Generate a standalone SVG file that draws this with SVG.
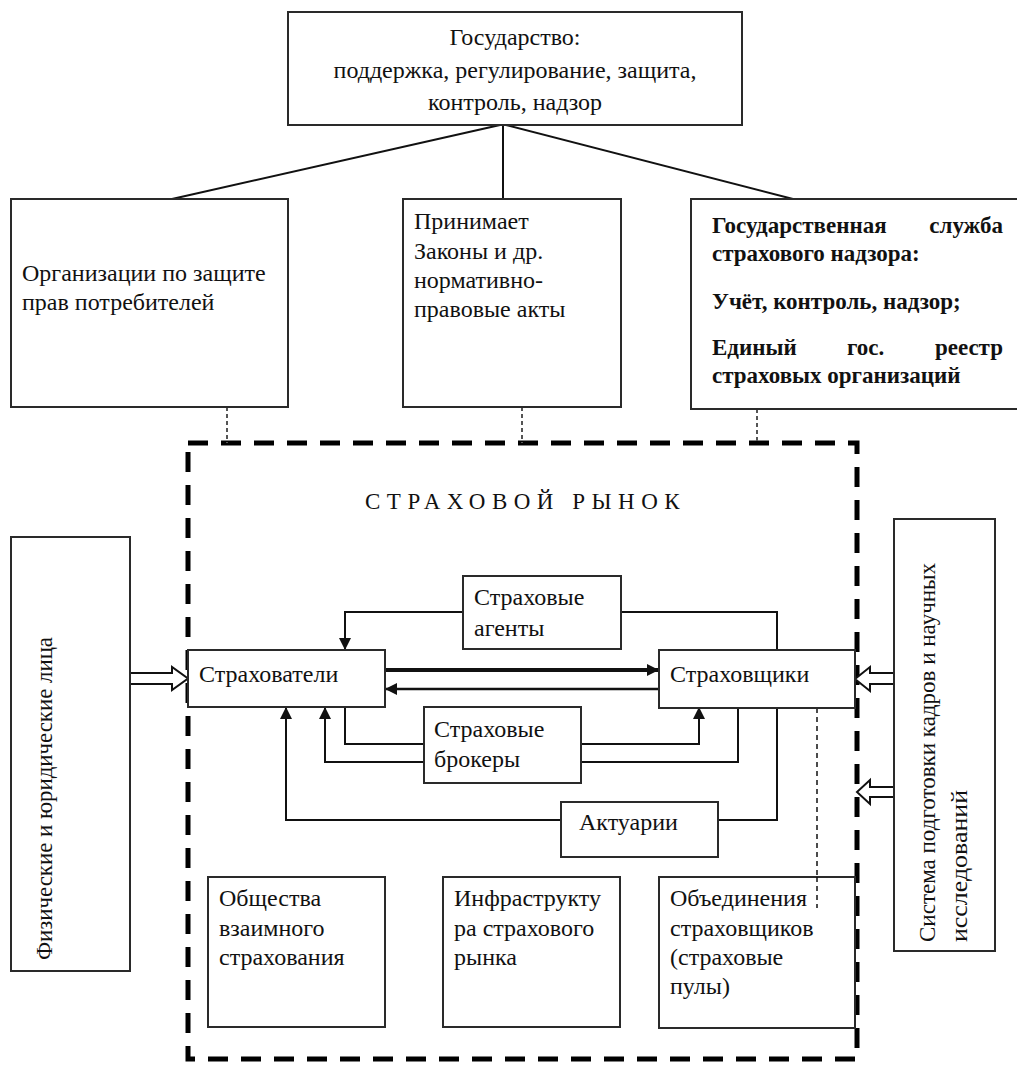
<svg xmlns="http://www.w3.org/2000/svg" width="1017" height="1065" viewBox="0 0 1017 1065">
<style>
.box{fill:#fff;stroke:#2a2a2a;stroke-width:2}
.t{font-family:"Liberation Serif","Times New Roman",serif;font-size:24px;fill:#111}
.c{text-anchor:middle}
.b{font-weight:bold;font-size:23px}
.ln{fill:none;stroke:#111;stroke-width:2}
.dot{fill:none;stroke:#555;stroke-width:2;stroke-dasharray:4 3}
.thin-dash{fill:none;stroke:#111;stroke-width:1.5;stroke-dasharray:5 4}
.frame{fill:none;stroke:#000;stroke-width:5;stroke-dasharray:20 13}
.hollow{fill:#fff;stroke:#111;stroke-width:2;stroke-linejoin:miter}
.mk{font-size:23px;letter-spacing:6.5px}
</style>
<defs>
<marker id="arr" viewBox="0 0 12 12" refX="12" refY="6" markerWidth="12" markerHeight="12" markerUnits="userSpaceOnUse" orient="auto">
<path d="M0,0 L12,6 L0,12 z" fill="#111"/>
</marker>
</defs>
<rect x="0" y="0" width="1017" height="1065" fill="#fff"/>

<g id="market-frame">
<rect class="frame" x="188" y="443" width="669" height="616"/>
<text class="t mk" x="365" y="509">СТРАХОВОЙ РЫНОК</text>
</g>

<g id="connectors">
<line class="ln" x1="500" y1="125" x2="172" y2="199"/>
<line class="ln" x1="503" y1="125" x2="503" y2="199"/>
<line class="ln" x1="506" y1="125" x2="793" y2="199"/>
<line class="dot" x1="227" y1="407" x2="227" y2="443"/>
<line class="dot" x1="522" y1="407" x2="522" y2="443"/>
<line class="dot" x1="757" y1="409" x2="757" y2="443"/>
<polyline class="ln" points="463,612 345,612 345,650" marker-end="url(#arr)"/>
<polyline class="ln" points="621,612 777,612 777,650"/>
<line class="ln" x1="385" y1="670" x2="659" y2="670" style="stroke-width:4" marker-end="url(#arr)"/>
<line class="ln" x1="659" y1="689" x2="385" y2="689" style="stroke-width:2.5" marker-end="url(#arr)"/>
<polyline class="ln" points="345,707 345,744 424,744"/>
<polyline class="ln" points="581,744 699,744 699,707" marker-end="url(#arr)"/>
<polyline class="ln" points="424,762 325,762 325,707" marker-end="url(#arr)"/>
<polyline class="ln" points="581,762 738,762 738,707"/>
<polyline class="ln" points="561,820 286,820 286,707" marker-end="url(#arr)"/>
<polyline class="ln" points="718,820 777,820 777,707"/>
<line class="thin-dash" x1="817" y1="708" x2="817" y2="908"/>
<polygon class="hollow" points="130,673 172,673 172,667 188,678.5 172,690 172,684 130,684"/>
<polygon class="hollow" points="895,673 870,673 870,667 855,679 870,691 870,684 895,684"/>
<polygon class="hollow" points="895,787 870,787 870,780 857,792 870,804 870,797 895,797"/>
</g>

<g id="n-state">
<rect class="box" x="288" y="12" width="454" height="113"/>
<text class="t c" x="515" y="45">Государство:</text>
<text class="t c" x="515" y="78">поддержка, регулирование, защита,</text>
<text class="t c" x="515" y="110">контроль, надзор</text>
</g>

<g id="n-consumer">
<rect class="box" x="11" y="199" width="277" height="208"/>
<text class="t" x="22" y="281">Организации по защите</text>
<text class="t" x="22" y="310">прав потребителей</text>
</g>

<g id="n-laws">
<rect class="box" x="403" y="199" width="218" height="208"/>
<text class="t" x="414" y="229">Принимает</text>
<text class="t" x="414" y="259">Законы и др.</text>
<text class="t" x="414" y="288">нормативно-</text>
<text class="t" x="414" y="317">правовые акты</text>
</g>

<g id="n-supervision">
<rect class="box" x="691" y="199" width="340" height="210"/>
<text class="t b" x="712" y="233">Государственная</text>
<text class="t b" x="1003" y="233" text-anchor="end">служба</text>
<text class="t b" x="712" y="261">страхового надзора:</text>
<text class="t b" x="712" y="309">Учёт, контроль, надзор;</text>
<text class="t b" x="712" y="355">Единый</text>
<text class="t b" x="847" y="355">гос.</text>
<text class="t b" x="1003" y="355" text-anchor="end">реестр</text>
<text class="t b" x="712" y="383">страховых организаций</text>
</g>

<g id="n-persons">
<rect class="box" x="11" y="537" width="119" height="434"/>
<text class="t" transform="translate(52,960) rotate(-90)" textLength="323" lengthAdjust="spacingAndGlyphs">Физические и юридические лица</text>
</g>

<g id="n-science">
<rect class="box" x="894" y="519" width="101" height="432"/>
<text class="t" transform="translate(935,942) rotate(-90)" textLength="379" lengthAdjust="spacingAndGlyphs">Система подготовки кадров и научных</text>
<text class="t" transform="translate(967,942) rotate(-90)" textLength="152" lengthAdjust="spacingAndGlyphs">исследований</text>
</g>

<g id="n-agents">
<rect class="box" x="463" y="576" width="158" height="73"/>
<text class="t" x="474" y="605">Страховые</text>
<text class="t" x="474" y="636">агенты</text>
</g>

<g id="n-insured">
<rect class="box" x="188" y="650" width="197" height="57"/>
<text class="t" x="199" y="682">Страхователи</text>
</g>

<g id="n-insurers">
<rect class="box" x="659" y="650" width="196" height="58"/>
<text class="t" x="670" y="682">Страховщики</text>
</g>

<g id="n-brokers">
<rect class="box" x="424" y="707" width="157" height="76"/>
<text class="t" x="434" y="737">Страховые</text>
<text class="t" x="434" y="767">брокеры</text>
</g>

<g id="n-actuaries">
<rect class="box" x="561" y="802" width="157" height="55"/>
<text class="t" x="579" y="830">Актуарии</text>
</g>

<g id="n-mutual">
<rect class="box" x="208" y="877" width="177" height="150"/>
<text class="t" x="219" y="906">Общества</text>
<text class="t" x="219" y="936">взаимного</text>
<text class="t" x="219" y="965">страхования</text>
</g>

<g id="n-infra">
<rect class="box" x="443" y="877" width="177" height="150"/>
<text class="t" x="454" y="906">Инфраструкту</text>
<text class="t" x="454" y="936">ра страхового</text>
<text class="t" x="454" y="965">рынка</text>
</g>

<g id="n-pools">
<rect class="box" x="659" y="877" width="196" height="151"/>
<text class="t" x="670" y="906">Объединения</text>
<text class="t" x="670" y="936">страховщиков</text>
<text class="t" x="670" y="965">(страховые</text>
<text class="t" x="670" y="994">пулы)</text>
</g>

<g id="connector-overlay">
<line class="thin-dash" x1="817" y1="877" x2="817" y2="908"/>
</g>
</svg>
